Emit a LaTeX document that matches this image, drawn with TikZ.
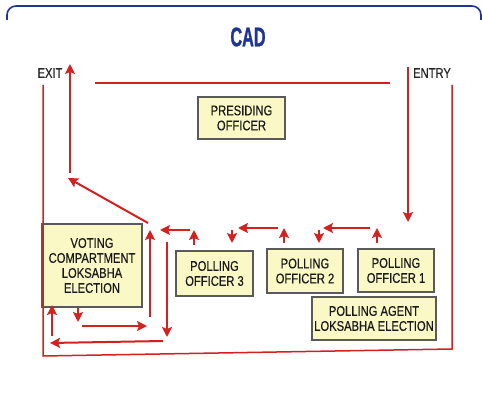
\documentclass[tikz,border=0pt]{standalone}
\usepackage{fontspec}
\setmainfont{Liberation Sans}
\newfontfamily\narrowfont[FakeStretch=0.8,FakeBold=0.4]{Liberation Sans}
\newfontfamily\titlefont[FakeStretch=0.6,FakeBold=1]{Liberation Sans Bold}
\usetikzlibrary{arrows.meta}
\definecolor{cadred}{RGB}{212,32,32}
\definecolor{cadblue}{RGB}{30,52,150}
\definecolor{boxfill}{RGB}{250,248,196}
\definecolor{boxline}{RGB}{90,90,90}
\begin{document}
\begin{tikzpicture}[x=1pt,y=-1pt,
  box/.style={draw=boxline,line width=1.3pt,fill=boxfill,inner sep=0pt,align=center,
    font=\narrowfont\fontsize{14}{15}\selectfont,text=black!90},
  lbl/.style={inner sep=0pt,font=\narrowfont\fontsize{14}{15}\selectfont,text=black!85},
  arr/.style={draw=cadred,line width=2pt,-{Stealth[length=10pt,width=10pt,inset=2pt]}},
  redline/.style={draw=cadred,line width=1.5pt}]
\useasboundingbox (0,0) rectangle (482,403);
\fill[white] (0,0) rectangle (482,403);
% frame top edge
\draw[cadblue,line width=1.6pt,rounded corners=9pt] (7,20) -- (7,6) -- (481,6) -- (481,20);
% texts
\node[inner sep=0pt,font=\titlefont\fontsize{27}{27}\selectfont,text=cadblue] (title) at (248,37) {CAD};
\node[lbl] (exit) at (50,73) {EXIT};
\node[lbl] (entry) at (432,73) {ENTRY};
% boxes
\node[box,minimum width=87pt,minimum height=42pt] (pres) at (241.5,118) {PRESIDING\\OFFICER};
\node[box,minimum width=100pt,minimum height=83pt] (vote) at (92,265.5) {VOTING\\COMPARTMENT\\LOKSABHA\\ELECTION};
\node[box,minimum width=77pt,minimum height=45pt] (po3) at (214.5,273.5) {POLLING\\OFFICER 3};
\node[box,minimum width=76pt,minimum height=44pt] (po2) at (305,271) {POLLING\\OFFICER 2};
\node[box,minimum width=76pt,minimum height=43pt] (po1) at (396,270.5) {POLLING\\OFFICER 1};
\node[box,minimum width=124pt,minimum height=43pt] (agent) at (374,318.5) {POLLING AGENT\\LOKSABHA ELECTION};
% coordinates
\coordinate (tl1) at (95,83); \coordinate (tl2) at (390,83);
\coordinate (o1) at (43,85); \coordinate (o2) at (43,356); \coordinate (o3) at (452,349); \coordinate (o4) at (452,85);
\coordinate (e1) at (408,67); \coordinate (e2) at (408,222);
\coordinate (a1s) at (377,243); \coordinate (a1e) at (377,228);
\coordinate (a2s) at (370,228); \coordinate (a2e) at (323,228);
\coordinate (a3s) at (319,230); \coordinate (a3e) at (319,243);
\coordinate (a4s) at (284,243); \coordinate (a4e) at (284,228);
\coordinate (a5s) at (278,228); \coordinate (a5e) at (238,228);
\coordinate (a6s) at (232,230); \coordinate (a6e) at (232,243);
\coordinate (a7s) at (194,245); \coordinate (a7e) at (194,230);
\coordinate (a8s) at (190,230); \coordinate (a8e) at (160,230);
\coordinate (a9s) at (150,317); \coordinate (a9e) at (150,230);
\coordinate (a10s) at (167,242); \coordinate (a10e) at (167,337);
\coordinate (a11s) at (82,326); \coordinate (a11e) at (147,326);
\coordinate (a12s) at (78,308); \coordinate (a12e) at (78,322);
\coordinate (a13s) at (163,341); \coordinate (a13e) at (50,343);
\coordinate (a14s) at (52,336); \coordinate (a14e) at (52,305);
\coordinate (a15s) at (148,223); \coordinate (a15e) at (68,178);
\coordinate (x1) at (70,173); \coordinate (x2) at (70,64);
% plain lines
\draw[redline] (tl1) -- (tl2);
\draw[redline] (o1) -- (o2) -- (o3) -- (o4);
% arrows
\draw[arr,line width=1.6pt] (e1) -- (e2);
\draw[arr] (a1s) -- (a1e);
\draw[arr] (a2s) -- (a2e);
\draw[arr] (a3s) -- (a3e);
\draw[arr] (a4s) -- (a4e);
\draw[arr] (a5s) -- (a5e);
\draw[arr] (a6s) -- (a6e);
\draw[arr] (a7s) -- (a7e);
\draw[arr] (a8s) -- (a8e);
\draw[arr] (a9s) -- (a9e);
\draw[arr] (a10s) -- (a10e);
\draw[arr] (a11s) -- (a11e);
\draw[arr] (a12s) -- (a12e);
\draw[arr] (a13s) -- (a13e);
\draw[arr] (a14s) -- (a14e);
\draw[arr] (a15s) -- (a15e);
\draw[arr] (x1) -- (x2);
\end{tikzpicture}
\end{document}
